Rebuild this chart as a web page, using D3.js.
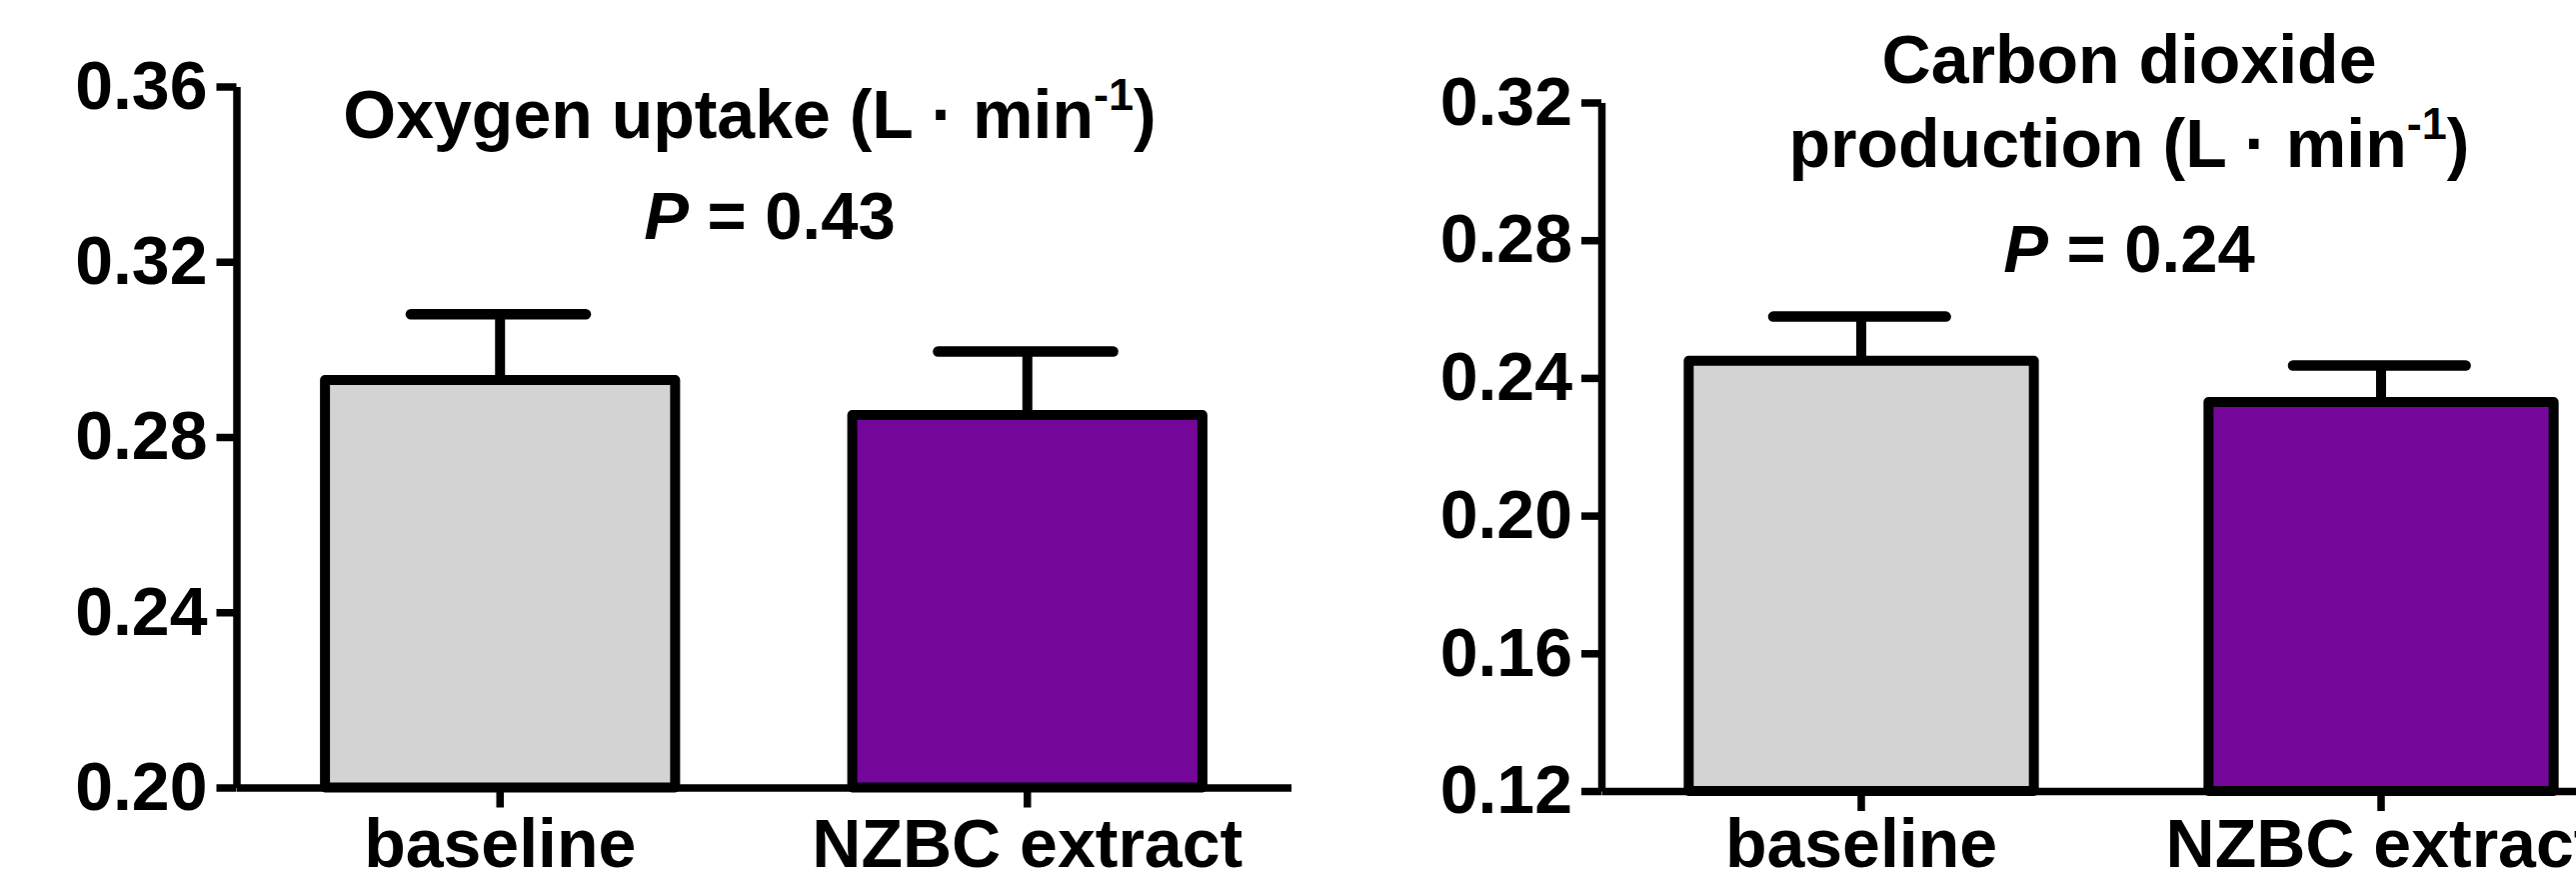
<!DOCTYPE html>
<html>
<head>
<meta charset="utf-8">
<script src="https://cdn.jsdelivr.net/npm/d3@7"></script>
<style>
  body { margin: 0; background: #fff; }
  svg text { font-family: "Liberation Sans", Arial, sans-serif; font-weight: bold; fill: #000; }
</style>
</head>
<body>
<div id="chart"></div>
<script>
// data
var groups = ["baseline", "NZBC extract"];
var barColors = ["#d3d3d3", "#75069a"];

var vo2Mean = [0.293, 0.285];
var vo2Sem = [0.015, 0.0145];
var vo2Ticks = [0.20, 0.24, 0.28, 0.32, 0.36];
var vo2Title = ["Oxygen uptake (L \u00b7 min"];
var vo2P = "0.43";

var vco2Mean = [0.245, 0.233];
var vco2Sem = [0.0128, 0.0106];
var vco2Ticks = [0.12, 0.16, 0.20, 0.24, 0.28, 0.32];
var vco2Title = ["Carbon dioxide", "production (L \u00b7 min"];
var vco2P = "0.24";

var W = 2577, H = 882;

var svg = d3.select("#chart")
  .append("svg")
  .attr("width", W)
  .attr("height", H)
  .attr("viewBox", "0 0 " + W + " " + H);

svg.append("rect").attr("width", W).attr("height", H).attr("fill", "#fff");

function drawPanel(settings) {
  var g = svg.append("g");

  var y = d3.scaleLinear()
    .domain([settings.ticks[0], settings.ticks[settings.ticks.length - 1]])
    .range([settings.bottom, settings.top]);

  var x = d3.scaleBand()
    .domain(groups)
    .range([settings.left, settings.right])
    .paddingInner(0.336)
    .paddingOuter(0.168);

  var bw = x.bandwidth();
  var fs = 68;

  // bars
  g.selectAll(".bar")
    .data(settings.mean).enter().append("rect")
    .attr("class", "bar")
    .attr("x", function(d, i) { return x(groups[i]); })
    .attr("y", function(d) { return y(d); })
    .attr("width", bw)
    .attr("height", function(d) { return y(settings.ticks[0]) - y(d); })
    .attr("fill", function(d, i) { return barColors[i]; })
    .attr("stroke", "#000")
    .attr("stroke-width", 10)
    .attr("stroke-linejoin", "round");

  // error bars (upper only)
  g.selectAll(".stem")
    .data(settings.mean).enter().append("line")
    .attr("x1", function(d, i) { return x(groups[i]) + bw / 2; })
    .attr("x2", function(d, i) { return x(groups[i]) + bw / 2; })
    .attr("y1", function(d) { return y(d); })
    .attr("y2", function(d, i) { return y(d + settings.sem[i]); })
    .attr("stroke", "#000")
    .attr("stroke-width", 10);

  g.selectAll(".cap")
    .data(settings.mean).enter().append("line")
    .attr("x1", function(d, i) { return x(groups[i]) + bw / 2 - bw * 0.255; })
    .attr("x2", function(d, i) { return x(groups[i]) + bw / 2 + bw * 0.245; })
    .attr("y1", function(d, i) { return y(d + settings.sem[i]); })
    .attr("y2", function(d, i) { return y(d + settings.sem[i]); })
    .attr("stroke", "#000")
    .attr("stroke-width", 10.5)
    .attr("stroke-linecap", "round");

  // y axis
  var yAxis = g.append("g")
    .attr("transform", "translate(" + settings.left + ",0)")
    .call(d3.axisLeft(y)
      .tickValues(settings.ticks)
      .tickFormat(d3.format(".2f"))
      .tickSize(20)
      .tickSizeOuter(0)
      .tickPadding(9));

  // x axis
  var xAxis = g.append("g")
    .attr("transform", "translate(0," + settings.bottom + ")")
    .call(d3.axisBottom(x)
      .tickSize(20)
      .tickSizeOuter(0)
      .tickPadding(settings.xPad));

  [yAxis, xAxis].forEach(function(ax) {
    ax.select(".domain").attr("stroke", "#000").attr("stroke-width", 7.5);
    ax.selectAll(".tick line").attr("stroke", "#000").attr("stroke-width", 7.5);
    ax.selectAll(".tick text")
      .attr("font-size", fs)
      .attr("font-family", "'Liberation Sans', Arial, sans-serif")
      .attr("font-weight", "bold")
      .attr("fill", "#000");
  });

  // title lines, the last one gets the superscript
  settings.title.forEach(function(line, i) {
    var t = g.append("text")
      .attr("x", settings.titleX)
      .attr("y", settings.titleY[i])
      .attr("text-anchor", "middle")
      .attr("font-size", 68);
    t.append("tspan").text(line);
    if (i === settings.title.length - 1) {
      t.append("tspan").attr("font-size", 45).attr("dy", -28).text("-1");
      t.append("tspan").attr("dy", 28).text(")");
    }
  });

  var p = g.append("text")
    .attr("x", settings.pX)
    .attr("y", settings.pY)
    .attr("text-anchor", "middle")
    .attr("font-size", 67);
  p.append("tspan").attr("font-style", "italic").text("P");
  p.append("tspan").text(" = " + settings.p);
}

drawPanel({
  mean: vo2Mean, sem: vo2Sem, ticks: vo2Ticks,
  left: 236.5, right: 1291.5, top: 86.5, bottom: 787.5, xPad: 11,
  title: vo2Title, titleX: 750, titleY: [138], p: vo2P, pX: 770, pY: 239
});

drawPanel({
  mean: vco2Mean, sem: vco2Sem, ticks: vco2Ticks,
  left: 1602, right: 2642, top: 102.5, bottom: 791, xPad: 8,
  title: vco2Title, titleX: 2130, titleY: [83, 167], p: vco2P, pX: 2130, pY: 272
});
</script>
</body>
</html>
